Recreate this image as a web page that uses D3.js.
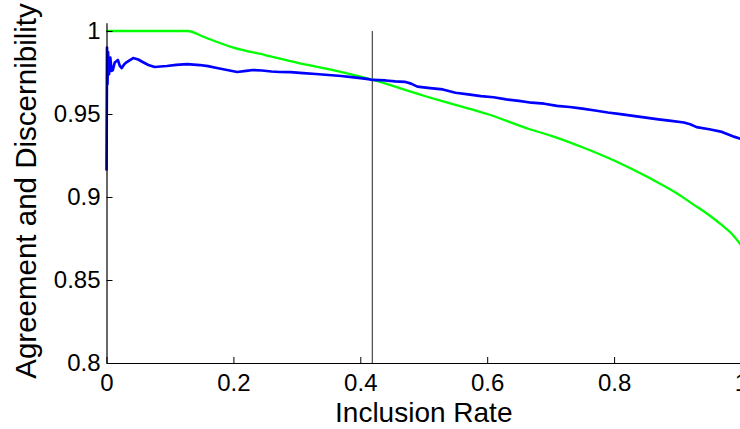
<!DOCTYPE html>
<html>
<head>
<meta charset="utf-8">
<script src="https://cdn.jsdelivr.net/npm/d3@7"></script>
<style>
  html, body { margin: 0; padding: 0; background: #fff; }
  svg text { font-family: "Liberation Sans", Arial, Helvetica, sans-serif; fill: #000; }
</style>
</head>
<body>
<div id="chart"></div>
<script>
const width = 740;
const height = 429;

// tick labels
const xTicks = [0, 0.2, 0.4, 0.6, 0.8, 1];
const yTicks = [0.8, 0.85, 0.9, 0.95, 1];

// inclusion rate of the vertical marker
const cutRate = 0.419;

// blue series (agreement)
const blueX = [0, 0.0008, 0.0015, 0.0024, 0.004, 0.006, 0.008, 0.010, 0.013, 0.018, 0.021, 0.024, 0.028, 0.032, 0.037, 0.042, 0.05, 0.057, 0.066, 0.076, 0.085, 0.095, 0.11, 0.127, 0.137, 0.147, 0.16, 0.174, 0.19, 0.206, 0.22, 0.231, 0.245, 0.26, 0.273, 0.29, 0.31, 0.33, 0.35, 0.37, 0.39, 0.41, 0.42, 0.44, 0.455, 0.47, 0.48, 0.49, 0.51, 0.53, 0.55, 0.57, 0.59, 0.61, 0.63, 0.65, 0.67, 0.69, 0.71, 0.73, 0.75, 0.77, 0.79, 0.81, 0.83, 0.85, 0.87, 0.89, 0.91, 0.92, 0.93, 0.95, 0.97, 0.99, 1];
const blueY = [0.916, 0.99, 0.968, 0.9873, 0.974, 0.984, 0.976, 0.9765, 0.981, 0.9825, 0.979, 0.9777, 0.980, 0.9813, 0.9825, 0.9837, 0.9828, 0.9813, 0.9795, 0.9783, 0.9786, 0.9789, 0.9796, 0.9801, 0.9798, 0.9795, 0.9788, 0.9777, 0.9765, 0.9753, 0.976, 0.9765, 0.9762, 0.9756, 0.9753, 0.9752, 0.9746, 0.9741, 0.9735, 0.9729, 0.9721, 0.9712, 0.9705, 0.9702, 0.9696, 0.9694, 0.9683, 0.9665, 0.9656, 0.9648, 0.9628, 0.9618, 0.9608, 0.9601, 0.9588, 0.9579, 0.9568, 0.9562, 0.9549, 0.9542, 0.9532, 0.9521, 0.9509, 0.9499, 0.9489, 0.9478, 0.9468, 0.9459, 0.9449, 0.9438, 0.9421, 0.9408, 0.9392, 0.9362, 0.935];

// green series (discernibility)
const greenX = [0, 0.128, 0.15, 0.163, 0.2, 0.25, 0.3, 0.35, 0.42, 0.5, 0.55, 0.6, 0.667, 0.7, 0.75, 0.8, 0.856, 0.9, 0.923, 0.95, 0.97, 0.985, 1];
const greenY = [1, 1, 0.997, 0.995, 0.99, 0.9855, 0.981, 0.977, 0.9705, 0.961, 0.9555, 0.95, 0.9408, 0.937, 0.93, 0.922, 0.9114, 0.902, 0.896, 0.889, 0.883, 0.878, 0.871];

const x = d3.scaleLinear().domain([0, 1]).range([106.5, 741]);
const y = d3.scaleLinear().domain([0.8, 1.005]).range([363, 22.7]);

const svg = d3.select("#chart")
    .append("svg")
    .attr("width", width)
    .attr("height", height);

// marker line
svg.append("line")
    .attr("x1", x(cutRate)).attr("x2", x(cutRate))
    .attr("y1", y(1)).attr("y2", y(0.8))
    .attr("stroke", "#555")
    .attr("stroke-width", 1.3);

const line = d3.line()
    .x(d => x(d[0]))
    .y(d => y(d[1]));

svg.append("path")
    .datum(greenX.map((v, i) => [v, greenY[i]]))
    .attr("fill", "none")
    .attr("stroke", "#00ff00")
    .attr("stroke-width", 2.3)
    .attr("d", line.curve(d3.curveMonotoneX));

svg.append("path")
    .datum(blueX.map((v, i) => [v, blueY[i]]))
    .attr("fill", "none")
    .attr("stroke", "#0000ff")
    .attr("stroke-width", 2.7)
    .attr("stroke-linejoin", "round")
    .attr("d", line.curve(d3.curveLinear));

// axes, ticks pointing inward like matlab
svg.append("g")
    .attr("transform", `translate(0,${y(0.8)})`)
    .call(d3.axisBottom(x).tickValues(xTicks).tickFormat(d => String(d))
        .tickSizeInner(-6).tickSizeOuter(0).tickPadding(11));

svg.append("g")
    .attr("transform", `translate(${x(0)},0)`)
    .call(d3.axisLeft(y).tickValues(yTicks).tickFormat(d => String(d))
        .tickSizeInner(-6).tickSizeOuter(0).tickPadding(6));

svg.selectAll(".domain").attr("stroke", "#000").attr("stroke-width", 1.2);
svg.selectAll(".tick line").attr("stroke", "#000");
svg.selectAll(".tick text").attr("font-size", 24).attr("font-family", null).attr("fill", "#000");

// axis labels
svg.append("text")
    .attr("x", (x(0) + x(1)) / 2)
    .attr("y", 422)
    .attr("text-anchor", "middle")
    .attr("font-size", 28)
    .text("Inclusion Rate");

svg.append("text")
    .attr("transform", "translate(36,191) rotate(-90)")
    .attr("text-anchor", "middle")
    .attr("font-size", 29.5)
    .text("Agreement and Discernibility");
</script>
</body>
</html>
